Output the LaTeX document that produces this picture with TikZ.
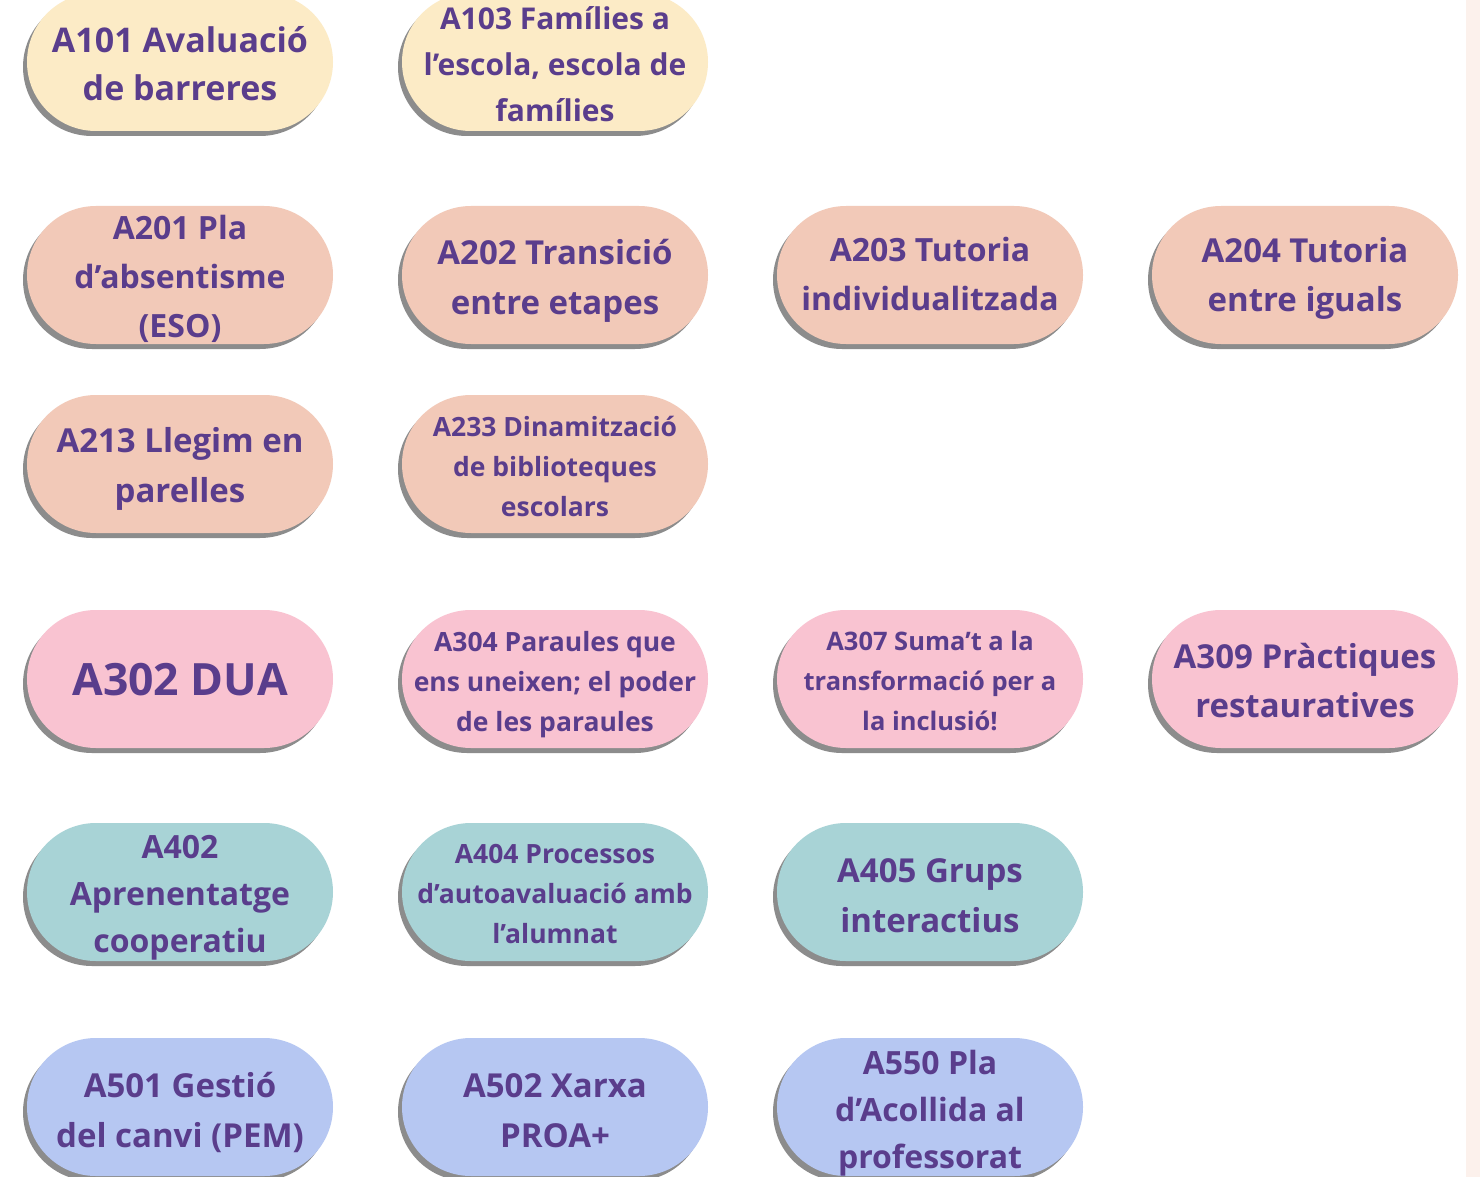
\documentclass[tikz,border=0pt]{standalone}
\usepackage{fontspec}
\setmainfont{Open Sans}
\usetikzlibrary{shadows}
\definecolor{cyel}{HTML}{FCEBC6}
\definecolor{cpea}{HTML}{F2C9B8}
\definecolor{cpin}{HTML}{F9C3D1}
\definecolor{ctea}{HTML}{A8D3D6}
\definecolor{cper}{HTML}{B6C7F2}
\definecolor{ctxt}{HTML}{5A3D8C}
\definecolor{cstrip}{HTML}{FCF1EC}
\tikzset{
  pill/.style={rectangle, rounded corners=69pt, minimum width=306pt, minimum height=138pt,
    inner sep=0pt,
    drop shadow={shadow xshift=-4pt, shadow yshift=-5pt, fill=black!45, opacity=1}},
  ptext/.style={inner sep=0pt, align=center, text=ctxt},
  fs/.style 2 args={font=\fontsize{#1}{#2}\selectfont\bfseries}
}
\begin{document}
\begin{tikzpicture}[x=1pt,y=-1pt]
\useasboundingbox (0,0) rectangle (1480,1177);
\fill[white] (0,0) rectangle (1480,1177);
\fill[cstrip] (1466,0) rectangle (1480,1177);
% pills
\node[pill, fill=cyel] (a101) at (180,62) {};
\node[pill, fill=cyel] (a103) at (555,62) {};
\node[pill, fill=cpea] (a201) at (180,275) {};
\node[pill, fill=cpea] (a202) at (555,275) {};
\node[pill, fill=cpea] (a203) at (930,275) {};
\node[pill, fill=cpea] (a204) at (1305,275) {};
\node[pill, fill=cpea] (a213) at (180,464) {};
\node[pill, fill=cpea] (a233) at (555,464) {};
\node[pill, fill=cpin] (a302) at (180,679) {};
\node[pill, fill=cpin] (a304) at (555,679) {};
\node[pill, fill=cpin] (a307) at (930,679) {};
\node[pill, fill=cpin] (a309) at (1305,679) {};
\node[pill, fill=ctea] (a402) at (180,892) {};
\node[pill, fill=ctea] (a404) at (555,892) {};
\node[pill, fill=ctea] (a405) at (930,892) {};
\node[pill, fill=cper] (a501) at (180,1107) {};
\node[pill, fill=cper] (a502) at (555,1107) {};
\node[pill, fill=cper] (a550) at (930,1107) {};
% texts
\node[ptext, fs={34}{48}] (t101) at ([yshift=-2pt]a101.center) {A101 Avaluació\\de barreres};
\node[ptext, fs={30}{46}] (t103) at ([yshift=-2pt]a103.center) {A103 Famílies a\\l’escola, escola de\\famílies};
\node[ptext, fs={32}{49}] (t201) at ([yshift=-4pt]a201.center) {A201 Pla\\d’absentisme\\(ESO)};
\node[ptext, fs={33}{50}] (t202) at ([yshift=-6pt]a202.center) {A202 Transició\\entre etapes};
\node[ptext, fs={32}{49}] (t203) at ([yshift=1pt]a203.center) {A203 Tutoria\\individualitzada};
\node[ptext, fs={33}{49}] (t204) at ([yshift=-3pt]a204.center) {A204 Tutoria\\entre iguals};
\node[ptext, fs={33}{50}] (t213) at ([yshift=-5pt]a213.center) {A213 Llegim en\\parelles};
\node[ptext, fs={26.5}{40}] (t233) at ([yshift=-2pt]a233.center) {A233 Dinamització\\de biblioteques\\escolars};
\node[ptext, fs={44.5}{50}] (t302) at ([yshift=-1pt]a302.center) {A302 DUA};
\node[ptext, fs={26.5}{40}] (t304) at ([yshift=-6pt]a304.center) {A304 Paraules que\\ens uneixen; el poder\\de les paraules};
\node[ptext, fs={25.5}{40}] (t307) at ([yshift=-2pt]a307.center) {A307 Suma’t a la\\transformació per a\\la inclusió!};
\node[ptext, fs={33}{49}] (t309) at ([yshift=-2pt]a309.center) {A309 Pràctiques\\restauratives};
\node[ptext, fs={32}{47}] (t402) at ([yshift=-6pt]a402.center) {A402\\Aprenentatge\\cooperatiu};
\node[ptext, fs={26.5}{40}] (t404) at ([yshift=-2pt]a404.center) {A404 Processos\\d’autoavaluació amb\\l’alumnat};
\node[ptext, fs={33}{50}] (t405) at ([yshift=-4pt]a405.center) {A405 Grups\\interactius};
\node[ptext, fs={33}{50}] (t501) at ([yshift=-5pt]a501.center) {A501 Gestió\\del canvi (PEM)};
\node[ptext, fs={33}{50}] (t502) at ([yshift=-4pt]a502.center) {A502 Xarxa\\PROA+};
\node[ptext, fs={32}{47}] (t550) at ([yshift=-6pt]a550.center) {A550 Pla\\d’Acollida al\\professorat};
\end{tikzpicture}
\end{document}
